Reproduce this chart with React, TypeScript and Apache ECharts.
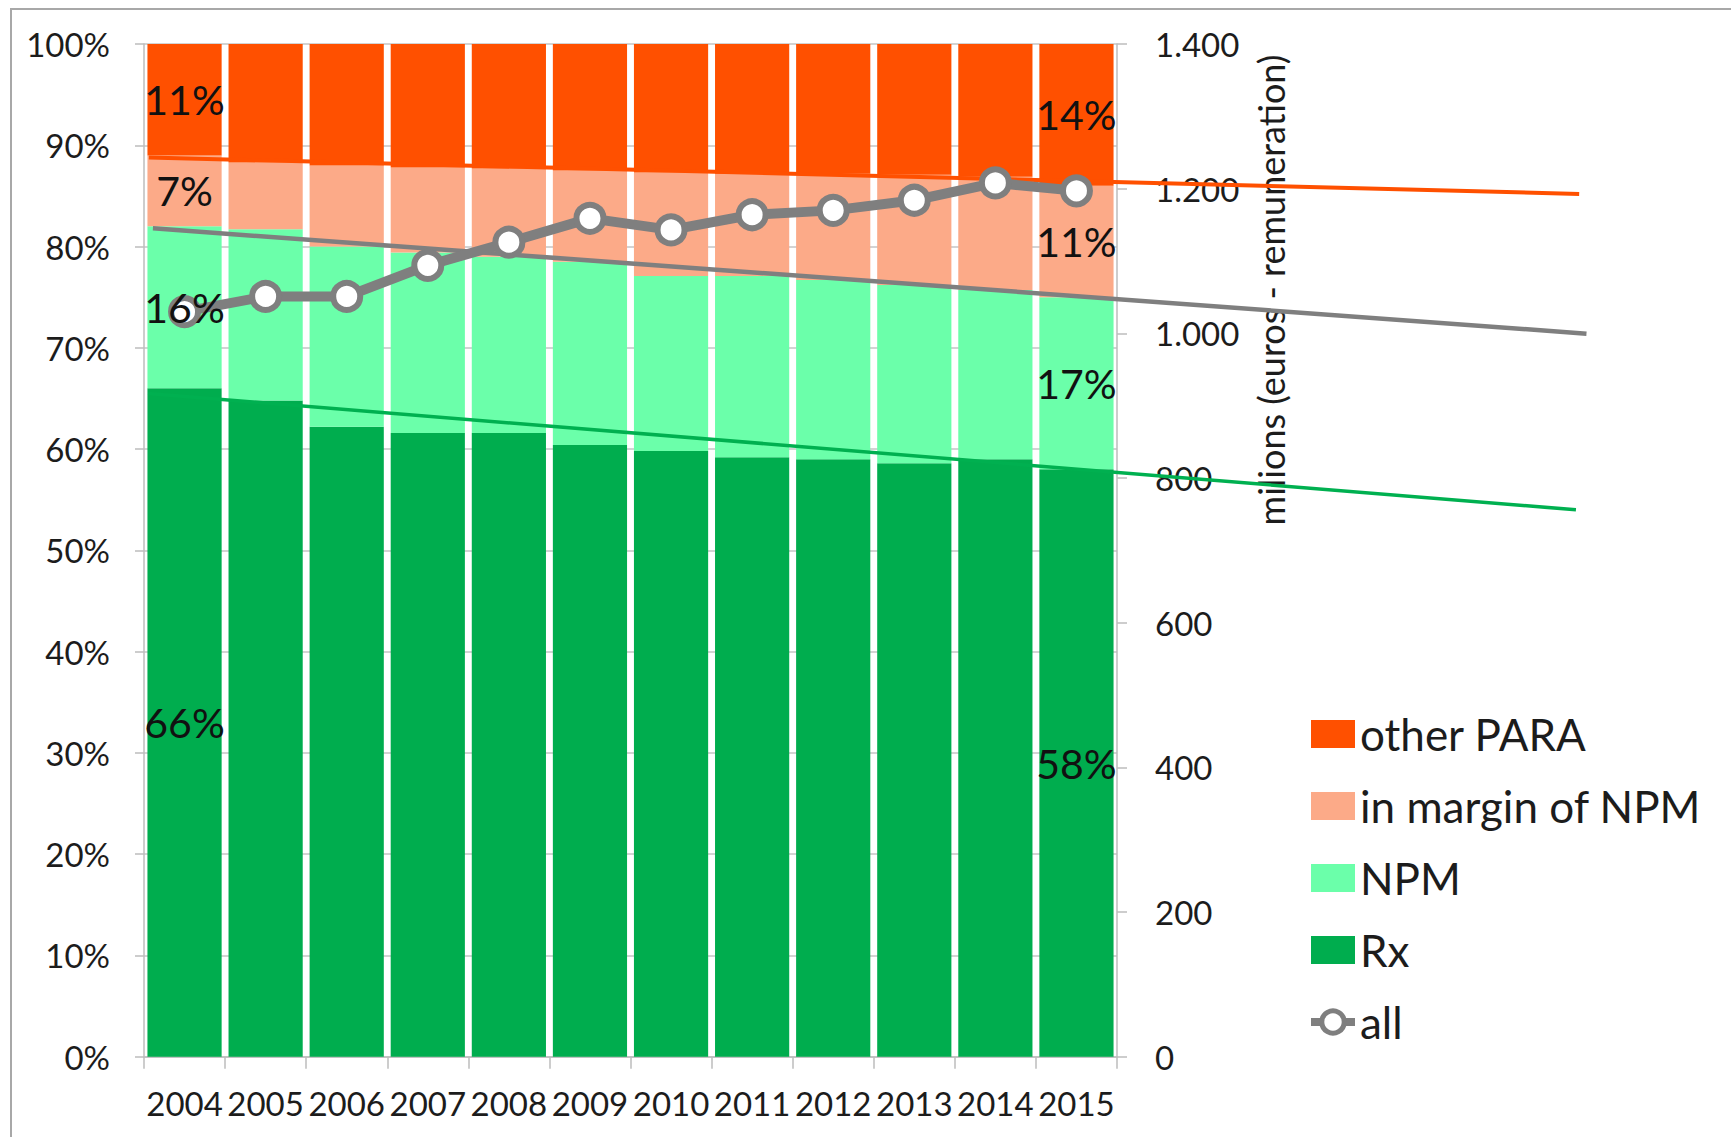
import React, { useEffect, useRef } from 'react';
import * as echarts from 'echarts';

// Years on the category axis
const years = ['2004', '2005', '2006', '2007', '2008', '2009', '2010', '2011', '2012', '2013', '2014', '2015'];

// Share of each segment in the yearly total (%), stacked bottom to top
const rxShare = [66, 64.8, 62.2, 61.6, 61.6, 60.4, 59.8, 59.2, 59.0, 58.6, 59.0, 58];
const npmShare = [16, 16.9, 17.8, 17.8, 17.4, 18.1, 17.3, 17.9, 17.7, 17.6, 16.7, 17];
const marginShare = [7, 6.6, 8.0, 8.4, 8.7, 9.0, 10.2, 10.1, 10.5, 10.9, 11.2, 11];
const otherShare = [11, 11.7, 12.0, 12.2, 12.3, 12.5, 12.7, 12.8, 12.8, 12.9, 13.1, 14];

// Total remuneration, millions of euros (right axis)
const allTotal = [1030, 1051, 1051, 1094, 1126, 1159, 1143, 1164, 1170, 1184, 1208, 1197];

// Trend lines: [category position, % level] start and end points
const trendOther = [[-0.44, 88.8], [17.2, 85.2]];
const trendNpm = [[-0.39, 81.8], [17.29, 71.4]];
const trendRx = [[-0.45, 65.5], [17.16, 54.0]];

// Axis ticks
const pctTicks = { min: 0, max: 100, interval: 10 };
const euroTicks = { min: 0, max: 1400, interval: 200 };

// Years whose segment shares are written inside the bars
const labelledYears = [0, 11];

const COLORS = {
  other: '#FF5000',
  margin: '#FCAA88',
  npm: '#6BFFAA',
  rx: '#00AD4E',
  all: '#7F7F7F',
  trendRx: '#00B050',
};

const FONT = 'Lato';
const TEXT = '#1c1c1c';
const AXIS = '#bdbdbd';

function euroFormat(v: number): string {
  if (v >= 1000) {
    const th = Math.floor(v / 1000);
    const rest = String(v % 1000).padStart(3, '0');
    return `${th}.${rest}`;
  }
  return String(v);
}

export default function App() {
  const ref = useRef<HTMLDivElement>(null);

  useEffect(() => {
    if (!ref.current) return;
    const chart = echarts.init(ref.current, undefined, { renderer: 'svg' });

    // Segment labels at the middle of each stacked segment
    const stacks = [rxShare, npmShare, marginShare, otherShare];
    const labelPoints: number[][] = [];
    const labelTexts: string[] = [];
    labelledYears.forEach((idx) => {
      let base = 0;
      stacks.forEach((s) => {
        labelPoints.push([idx, base + s[idx] / 2]);
        labelTexts.push(`${Math.round(s[idx])}%`);
        base += s[idx];
      });
    });

    const plotLeft = 144;
    const plotTop = 44;
    const plotWidth = 973;
    const plotHeight = 1012.7;
    const catWidth = plotWidth / years.length;

    const barCommon = {
      type: 'bar',
      stack: 'share',
      xAxisIndex: 0,
      yAxisIndex: 0,
      barCategoryGap: '8.5%',
      z: 2,
    };

    const trend = (name: string, data: number[][], color: string, width: number) => ({
      name,
      type: 'line',
      xAxisIndex: 1,
      yAxisIndex: 2,
      data,
      symbol: 'none',
      lineStyle: { color, width },
      z: 3,
      silent: true,
    });

    chart.setOption({
      animation: false,
      backgroundColor: '#ffffff',
      textStyle: { fontFamily: FONT, color: TEXT },
      grid: [
        { left: plotLeft, top: plotTop, width: plotWidth, height: plotHeight },
        { left: plotLeft, top: plotTop, width: catWidth * 18, height: plotHeight },
      ],
      legend: {
        orient: 'vertical',
        left: 1307,
        top: 712,
        padding: 0,
        itemWidth: 44,
        itemHeight: 28,
        itemGap: 28,
        textStyle: { fontSize: 44, fontFamily: FONT, color: TEXT },
        data: [
          { name: 'other PARA', icon: 'rect' },
          { name: 'in margin of NPM', icon: 'rect' },
          { name: 'NPM', icon: 'rect' },
          { name: 'Rx', icon: 'rect' },
          {
            name: 'all',
            lineStyle: { width: 8, color: COLORS.all },
            itemStyle: { color: '#ffffff', borderColor: COLORS.all, borderWidth: 5 },
          },
        ],
      },
      xAxis: [
        {
          type: 'category',
          gridIndex: 0,
          data: years,
          boundaryGap: true,
          axisLine: { show: true, lineStyle: { color: AXIS, width: 1.5 } },
          axisTick: { show: true, interval: 0, length: 12, lineStyle: { color: AXIS, width: 1.5 } },
          axisLabel: { interval: 0, fontSize: 33, fontFamily: FONT, color: TEXT, margin: 30 },
          splitLine: { show: false },
        },
        {
          type: 'value',
          gridIndex: 1,
          min: -0.5,
          max: 17.5,
          show: false,
        },
      ],
      yAxis: [
        {
          type: 'value',
          gridIndex: 0,
          ...pctTicks,
          axisLine: { show: true, lineStyle: { color: AXIS, width: 1.5 } },
          axisTick: { show: true, length: 9, lineStyle: { color: AXIS, width: 1.5 } },
          axisLabel: { formatter: '{value}%', fontSize: 33, fontFamily: FONT, color: TEXT, margin: 34 },
          splitLine: { show: true, lineStyle: { color: '#c4c4c4', width: 1.5 } },
        },
        {
          type: 'value',
          gridIndex: 0,
          position: 'right',
          ...euroTicks,
          axisLine: { show: true, lineStyle: { color: AXIS, width: 1.5 } },
          axisTick: { show: true, length: 10, lineStyle: { color: AXIS, width: 1.5 } },
          axisLabel: { formatter: euroFormat, fontSize: 33, fontFamily: FONT, color: TEXT, margin: 38 },
          splitLine: { show: false },
        },
        {
          type: 'value',
          gridIndex: 1,
          ...pctTicks,
          show: false,
        },
      ],
      graphic: [
        {
          type: 'rect',
          shape: { x: 11, y: 9, width: 1800, height: 1200 },
          style: { fill: 'none', stroke: '#a8a8a8', lineWidth: 2 },
          silent: true,
          z: -10,
        },
        {
          type: 'text',
          x: 1271,
          y: 290,
          rotation: Math.PI / 2,
          style: {
            text: 'milions (euros - remuneration)',
            fontSize: 36,
            fontFamily: FONT,
            fill: TEXT,
            align: 'center',
            verticalAlign: 'middle',
          },
          silent: true,
          z: 1,
        },
      ],
      series: [
        { ...barCommon, name: 'Rx', data: rxShare, itemStyle: { color: COLORS.rx } },
        { ...barCommon, name: 'NPM', data: npmShare, itemStyle: { color: COLORS.npm } },
        { ...barCommon, name: 'in margin of NPM', data: marginShare, itemStyle: { color: COLORS.margin } },
        { ...barCommon, name: 'other PARA', data: otherShare, itemStyle: { color: COLORS.other } },
        trend('trend other PARA', trendOther, COLORS.other, 4),
        trend('trend NPM', trendNpm, COLORS.all, 4.5),
        trend('trend Rx', trendRx, COLORS.trendRx, 3.5),
        {
          name: 'all',
          type: 'line',
          xAxisIndex: 0,
          yAxisIndex: 1,
          data: allTotal,
          symbol: 'circle',
          symbolSize: 27,
          showAllSymbol: true,
          lineStyle: { color: COLORS.all, width: 10 },
          itemStyle: { color: '#ffffff', borderColor: COLORS.all, borderWidth: 6 },
          z: 4,
        },
        {
          name: 'segment labels',
          type: 'custom',
          xAxisIndex: 0,
          yAxisIndex: 0,
          data: labelPoints,
          encode: { x: 0, y: 1 },
          clip: false,
          silent: true,
          z: 6,
          renderItem: (params: any, api: any) => {
            const p = api.coord([api.value(0), api.value(1)]);
            return {
              type: 'text',
              x: p[0],
              y: p[1],
              style: {
                text: labelTexts[params.dataIndex],
                fontSize: 41,
                fontFamily: FONT,
                fill: '#111111',
                align: 'center',
                verticalAlign: 'middle',
              },
            };
          },
        },
      ],
    });

    return () => chart.dispose();
  }, []);

  return (
    <div
      ref={ref}
      style={{ position: 'fixed', left: 0, top: 0, width: 1731, height: 1137, background: '#fff' }}
    />
  );
}
